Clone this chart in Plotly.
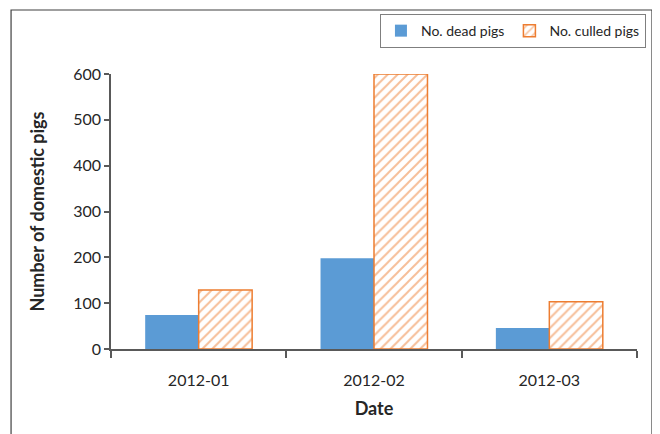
import plotly.graph_objects as go

dates = ["2012-01", "2012-02", "2012-03"]
dead = [74, 198, 46]
culled = [129, 600, 103]
y_ticks = [0, 100, 200, 300, 400, 500, 600]

FONT = "Lato, 'Open Sans', sans-serif"
BLUE = "#5B9BD5"
ORANGE = "#ED7D31"
AX = "#595959"

fig = go.Figure()
fig.add_trace(go.Bar(
    x=dates, y=dead, name="No. dead pigs",
    marker=dict(color=BLUE, line=dict(width=0)),
))
fig.add_trace(go.Bar(
    x=dates, y=culled, name="No. culled pigs",
    marker=dict(color="white", line=dict(color=ORANGE, width=1.5),
                pattern=dict(shape="/", fgcolor=ORANGE, bgcolor="white",
                             size=7, solidity=0.28, fillmode="overlay")),
))

# page body has an 8px default margin, so margins are offset to compensate
fig.update_layout(
    width=660, height=434,
    margin=dict(l=103, r=31, t=66, b=93, autoexpand=False),
    paper_bgcolor="white", plot_bgcolor="white",
    font=dict(family=FONT, size=16, color="#262626"),
    barmode="group", bargap=0.39, bargroupgap=0,
    showlegend=True,
    legend=dict(orientation="h", x=1.017, xanchor="right", y=1.218, yanchor="top",
                bordercolor="#7f7f7f", borderwidth=1, bgcolor="white",
                font=dict(size=14, family=FONT, color="#262626"),
                itemwidth=30, tracegroupgap=0),
    xaxis=dict(
        type="category", automargin=False,
        showline=True, linecolor=AX, linewidth=1.5,
        ticks="outside", tickson="boundaries", ticklen=7, tickcolor=AX, tickwidth=1.5,
        showgrid=False, zeroline=False,
        tickfont=dict(size=16), ticklabelstandoff=16,
        title=dict(text="<b>Date</b>", font=dict(size=18), standoff=14),
    ),
    yaxis=dict(
        range=[0, 600], tickvals=y_ticks, automargin=False,
        showline=True, linecolor=AX, linewidth=1.5,
        ticks="outside", ticklen=5, tickcolor=AX, tickwidth=1.5,
        showgrid=False, zeroline=False,
        tickfont=dict(size=16),
        title=dict(text="<b>Number of domestic pigs</b>", font=dict(size=18), standoff=24),
    ),
    shapes=[dict(type="rect", xref="paper", yref="paper",
                 x0=-0.190, x1=1.0285, y0=-0.45, y1=1.2327,
                 line=dict(color="#404040", width=1.2), fillcolor="rgba(0,0,0,0)",
                 layer="below")],
)

fig.write_html("out.html")
